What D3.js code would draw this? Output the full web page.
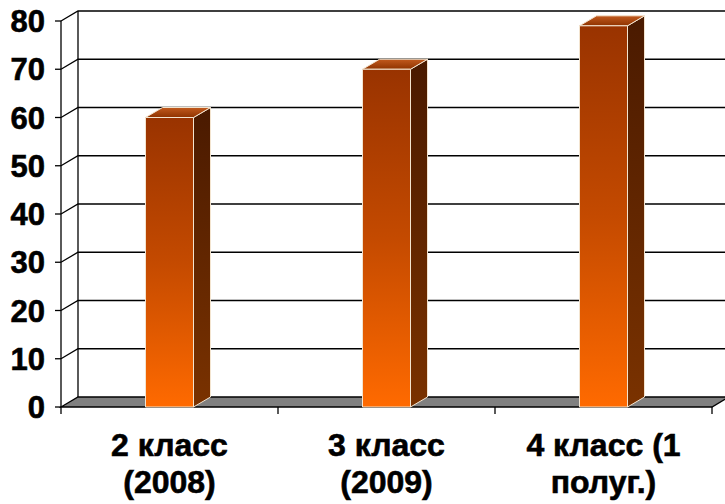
<!DOCTYPE html>
<html>
<head>
<meta charset="utf-8">
<script src="https://cdn.jsdelivr.net/npm/d3@7"></script>
<style>
  body { margin: 0; background: #fff; }
  text { font-family: Arial, "Liberation Sans", sans-serif; font-weight: bold; fill: #000; stroke: #000; stroke-width: 0.6px; }
</style>
</head>
<body>
<div id="chart"></div>
<script>
// data
var categories = [["2 класс", "(2008)"], ["3 класс", "(2009)"], ["4 класс (1", "полуг.)"]];
var values = [60, 70, 79];
var yTicks = [0, 10, 20, 30, 40, 50, 60, 70, 80];

var width = 725, height = 504;
var plotLeft = 61, plotRight = 712, plotTop = 21, plotBottom = 407;
var dx = 17, dy = -10; // 3d depth offset

var svg = d3.select('#chart')
  .append('svg')
  .attr('width', width)
  .attr('height', height);

var defs = svg.append('defs');
function grad(id, x2, y2, stops) {
  var g = defs.append('linearGradient').attr('id', id)
    .attr('x1', 0).attr('y1', 0).attr('x2', x2).attr('y2', y2);
  stops.forEach(function(s) {
    g.append('stop').attr('offset', s[0]).attr('stop-color', s[1]);
  });
}
grad('front', 0, 1, [[0, '#993300'], [0.5, '#c44a00'], [1, '#ff6a00']]);
grad('side', 0, 1, [[0, '#4a1a00'], [1, '#7a3200']]);
grad('topf', 0, 1, [[0, '#c25a1e'], [1, '#8f3300']]);

var x = d3.scaleBand()
  .domain(d3.range(categories.length))
  .range([plotLeft, plotRight]);

var y = d3.scaleLinear()
  .domain([0, 80])
  .range([plotBottom, plotTop]);

// back wall gridlines (with the left wall diagonal)
yTicks.forEach(function(t) {
  if (t === 0) return;
  svg.append('path')
    .attr('d', 'M' + plotLeft + ',' + y(t) + 'L' + (plotLeft + dx) + ',' + (y(t) + dy) + 'L' + (plotRight + dx) + ',' + (y(t) + dy))
    .attr('fill', 'none')
    .attr('stroke', '#000')
    .attr('stroke-width', 1.3);
});

// back wall left edge
svg.append('line')
  .attr('x1', plotLeft + dx).attr('x2', plotLeft + dx)
  .attr('y1', y(80) + dy).attr('y2', y(0) + dy)
  .attr('stroke', '#000').attr('stroke-width', 1.3);

// floor
svg.append('path')
  .attr('d', 'M' + plotLeft + ',' + y(0) + 'L' + plotRight + ',' + y(0) + 'L' + (plotRight + dx) + ',' + (y(0) + dy) + 'L' + (plotLeft + dx) + ',' + (y(0) + dy) + 'Z')
  .attr('fill', '#808080')
  .attr('stroke', '#000')
  .attr('stroke-width', 1.3);

// front y axis
svg.append('line')
  .attr('x1', plotLeft).attr('x2', plotLeft)
  .attr('y1', y(80)).attr('y2', y(0) + 7)
  .attr('stroke', '#000').attr('stroke-width', 1.3);

svg.selectAll('.ytick')
  .data(yTicks)
  .enter().append('line')
  .attr('x1', plotLeft - 6).attr('x2', plotLeft)
  .attr('y1', d => y(d)).attr('y2', d => y(d))
  .attr('stroke', '#000').attr('stroke-width', 1.3);

svg.selectAll('.ylab')
  .data(yTicks)
  .enter().append('text')
  .attr('x', 45)
  .attr('y', d => y(d))
  .attr('dy', '0.36em')
  .attr('text-anchor', 'end')
  .style('font-size', '31px')
  .text(d => d);

// category ticks
d3.range(1, categories.length + 1).forEach(function(i) {
  var xx = plotLeft + x.step() * i;
  svg.append('line')
    .attr('x1', xx).attr('x2', xx)
    .attr('y1', y(0)).attr('y2', y(0) + 7)
    .attr('stroke', '#000').attr('stroke-width', 1.3);
});

// bars
var bw = 48;
values.forEach(function(v, i) {
  var cx = x(i) + x.bandwidth() / 2;
  var x0 = cx - bw / 2, x1 = cx + bw / 2;
  var yt = y(v), yb = y(0);
  var g = svg.append('g')
    .attr('stroke', '#f3e4cf')
    .attr('stroke-width', 1)
    .attr('stroke-linejoin', 'round');
  // side
  g.append('path')
    .attr('d', 'M' + x1 + ',' + yt + 'L' + (x1 + dx) + ',' + (yt + dy) + 'L' + (x1 + dx) + ',' + (yb + dy) + 'L' + x1 + ',' + yb + 'Z')
    .attr('fill', 'url(#side)');
  // top
  g.append('path')
    .attr('d', 'M' + x0 + ',' + yt + 'L' + (x0 + dx) + ',' + (yt + dy) + 'L' + (x1 + dx) + ',' + (yt + dy) + 'L' + x1 + ',' + yt + 'Z')
    .attr('fill', 'url(#topf)');
  // front
  g.append('rect')
    .attr('x', x0).attr('y', yt)
    .attr('width', bw).attr('height', yb - yt)
    .attr('fill', 'url(#front)');
});

// category labels
categories.forEach(function(c, i) {
  var cx = x(i) + x.bandwidth() / 2;
  [456, 493].forEach(function(ly, k) {
    svg.append('text')
      .attr('x', cx)
      .attr('y', ly)
      .attr('text-anchor', 'middle')
      .style('font-size', '32px')
      .text(c[k]);
  });
});
</script>
</body>
</html>
